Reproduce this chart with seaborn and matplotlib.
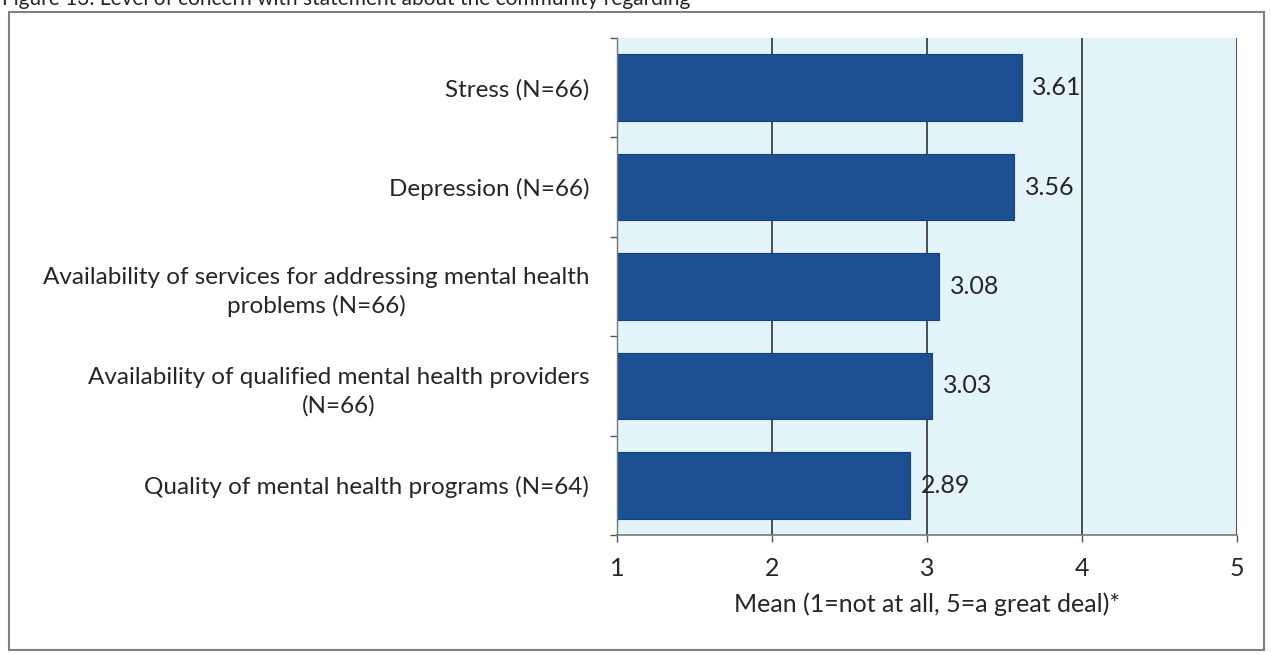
import pandas as pd
import matplotlib.pyplot as plt
import seaborn as sns
from matplotlib.patches import Rectangle

# Datos del gráfico
categories = [
    "Stress (N=66)",
    "Depression (N=66)",
    "Availability of services for addressing mental health\nproblems (N=66)",
    "Availability of qualified mental health providers\n(N=66)",
    "Quality of mental health programs (N=64)",
]
means = [3.61, 3.56, 3.08, 3.03, 2.89]
x_ticks = [1, 2, 3, 4, 5]

sns.set_theme(style="white")
plt.rcParams['font.family'] = ['Lato', 'DejaVu Sans']

df = pd.DataFrame({'category': categories, 'mean': means})

fig = plt.figure(figsize=(12.71, 6.54), dpi=100)
ax = fig.add_axes([617 / 1271, 1 - 535 / 654, 620 / 1271, (535 - 38) / 654])
ax.set_facecolor('#e2f3f9')

sns.barplot(data=df, y='category', x='mean', orient='h', color='#1d4f93',
            saturation=1, width=0.67, edgecolor='#16407a', linewidth=0.8, ax=ax)

ax.set_xlim(1, 5)
ax.set_ylim(4.5, -0.5)
ax.set_xticks(x_ticks)
ax.set_xticklabels([str(t) for t in x_ticks], fontsize=18)

# Líneas de la cuadrícula
for t in x_ticks[1:]:
    ax.axvline(t, color='#222222', lw=1.1, zorder=0.5)

# Etiquetas de categoría
ax.set_yticks(range(len(categories)))
ax.set_yticklabels(categories, fontsize=17.5, multialignment='center', linespacing=1.4)
ax.tick_params(axis='y', length=0, pad=20)
ax.set_yticks([i - 0.5 for i in range(len(categories) + 1)], minor=True)
ax.tick_params(axis='y', which='minor', length=5, width=1, color='#555555', left=True)
ax.tick_params(axis='x', length=5, width=1, color='#555555', direction='out',
               bottom=True, pad=11)

ax.set_ylabel("")
ax.set_xlabel("Mean (1=not at all, 5=a great deal)*", fontsize=18, labelpad=9)

for s in ['top', 'right']:
    ax.spines[s].set_visible(False)
ax.spines['left'].set_color('#777777')
ax.spines['bottom'].set_color('#777777')
ax.spines['left'].set_linewidth(1)
ax.spines['bottom'].set_linewidth(1.2)

# Valores de las barras
for i, v in enumerate(means):
    ax.text(v + 0.07, i, f"{v:.2f}", va='center', ha='left', fontsize=18)

# Marco y título recortado
fig.patches.append(Rectangle((9 / 1271, 1 - 650 / 654), (1264 - 9) / 1271, (650 - 12) / 654,
                             transform=fig.transFigure, fill=False,
                             edgecolor='#808080', lw=1.5))
fig.text(2 / 1271, 1 - 5 / 654,
         "Figure 13: Level of concern with statement about the community regarding",
         fontsize=15, ha='left', va='baseline')

plt.savefig('out.png', dpi=100)
